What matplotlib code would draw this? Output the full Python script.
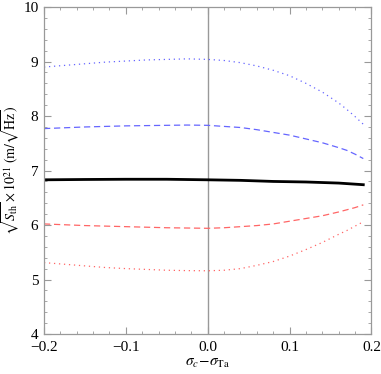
import matplotlib
matplotlib.use("Agg")
import matplotlib.pyplot as plt
from matplotlib.ticker import MultipleLocator

plt.rcParams['font.family'] = ['Liberation Serif', 'DejaVu Serif']
plt.rcParams['mathtext.fontset'] = 'stix'

x = [-0.2, -0.175, -0.15, -0.125, -0.1, -0.075, -0.05, -0.025, 0.0,
     0.02, 0.04, 0.06, 0.08, 0.1, 0.12, 0.14, 0.16, 0.17, 0.18, 0.19]
blue_dotted = [8.90, 8.93, 8.96, 8.99, 9.01, 9.03, 9.04, 9.05, 9.04,
               9.02, 8.98, 8.92, 8.84, 8.74, 8.60, 8.44, 8.24, 8.12, 7.99, 7.85]
blue_dashed = [7.77, 7.785, 7.80, 7.81, 7.82, 7.825, 7.83, 7.835, 7.83,
               7.81, 7.79, 7.75, 7.70, 7.65, 7.58, 7.51, 7.42, 7.37, 7.30, 7.22]
black_solid = [6.83, 6.833, 6.836, 6.838, 6.84, 6.84, 6.84, 6.835, 6.83,
               6.825, 6.82, 6.81, 6.80, 6.795, 6.79, 6.78, 6.77, 6.76, 6.75, 6.74]
red_dashed = [6.02, 6.005, 5.99, 5.98, 5.97, 5.96, 5.95, 5.945, 5.94,
              5.95, 5.97, 5.99, 6.02, 6.07, 6.12, 6.17, 6.24, 6.28, 6.32, 6.37]
red_dotted = [5.31, 5.28, 5.25, 5.22, 5.20, 5.185, 5.17, 5.163, 5.16,
              5.17, 5.20, 5.26, 5.33, 5.43, 5.55, 5.68, 5.83, 5.90, 5.98, 6.06]

xticks = [-0.2, -0.1, 0.0, 0.1, 0.2]
xticklabels = ['\u22120.2', '\u22120.1', '0.0', '0.1', '0.2']
yticks = [4, 5, 6, 7, 8, 9, 10]

fig = plt.figure(figsize=(3.81, 3.74), dpi=100)
ax = fig.add_axes([0.1155, 0.107, 0.8595, 0.874])

blue = (0.4, 0.4, 1.0)
red = (1.0, 0.4, 0.4)
ax.plot(x, blue_dotted, color=blue, lw=0.9, linestyle=(0, (1, 3)))
ax.plot(x, blue_dashed, color=blue, lw=0.9, linestyle=(0, (5, 3)))
ax.plot(x, black_solid, color='black', lw=2.0)
ax.plot(x, red_dashed, color=red, lw=0.9, linestyle=(0, (5, 3)))
ax.plot(x, red_dotted, color=red, lw=0.9, linestyle=(0, (1, 3)))
ax.axvline(0, color='#999999', lw=1.0, zorder=0)

ax.set_xlim(-0.2, 0.2)
ax.set_ylim(4, 10)
ax.set_xticks(xticks)
ax.set_xticklabels(xticklabels)
ax.set_yticks(yticks)
ax.xaxis.set_minor_locator(MultipleLocator(0.02))
ax.yaxis.set_minor_locator(MultipleLocator(0.2))
ax.tick_params(which='both', direction='in', top=True, right=True, color='#999999', labelsize=11)
ax.tick_params(axis='x', which='major', pad=5)
ax.tick_params(axis='y', which='major', pad=4)
ax.tick_params(which='major', length=5, width=0.8)
ax.tick_params(which='minor', length=2.5, width=0.6)
for s in ax.spines.values():
    s.set_color('#999999')
    s.set_linewidth(0.9)

ax.set_xlabel(r'$\sigma_c\!-\!\sigma_{\mathrm{Ta}}$', fontsize=11, labelpad=2)
ax.set_ylabel(r'$\sqrt{S_{\mathrm{th}}}\times10^{21}\ (\mathrm{m}/\sqrt{\mathrm{Hz}})$', fontsize=10, labelpad=1)

fig.savefig('out.png', dpi=100)
